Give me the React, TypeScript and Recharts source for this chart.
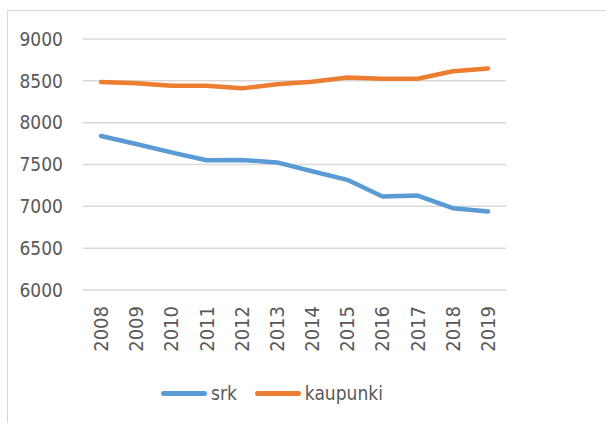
import React from 'react';
import { LineChart, Line, XAxis, YAxis, CartesianGrid, Legend } from 'recharts';

const years = ['2008', '2009', '2010', '2011', '2012', '2013', '2014', '2015', '2016', '2017', '2018', '2019'];
const srk = [7840, 7745, 7645, 7550, 7555, 7525, 7420, 7317, 7118, 7128, 6978, 6938];
const kaupunki = [8485, 8470, 8442, 8440, 8410, 8460, 8488, 8540, 8525, 8525, 8615, 8648];
const yTicks = [6000, 6500, 7000, 7500, 8000, 8500, 9000];

const seriesKeys = ['srk', 'kaupunki'];
const seriesNames: Record<string, string> = { srk: 'srk', kaupunki: 'kaupunki' };
const colors: Record<string, string> = { srk: '#5B9BD5', kaupunki: '#ED7D31' };

const data = years.map((y, i) => ({ year: y, srk: srk[i], kaupunki: kaupunki[i] }));

const FONT = "'DejaVu Sans Condensed', 'Liberation Sans', sans-serif";
const TEXT = '#595959';
const GRID = '#d9d9d9';

const XTick = (props: any) => {
  const { x, y, payload } = props;
  return (
    <text
      x={0}
      y={0}
      transform={`translate(${x},${y}) rotate(-90)`}
      textAnchor="end"
      dominantBaseline="central"
      fill={TEXT}
      fontFamily={FONT}
      fontSize={20}
    >
      {payload.value}
    </text>
  );
};

const LegendContent = (props: any) => {
  const { payload } = props;
  const items = seriesKeys.map((k) => {
    const p = (payload || []).find((q: any) => q.dataKey === k);
    return { key: k, value: p ? p.value : seriesNames[k], color: p ? p.color : colors[k] };
  });
  return (
    <div style={{ position: 'relative', width: 606, height: 30 }}>
      <div style={{ position: 'absolute', left: 161, top: 0, height: 30, display: 'flex', alignItems: 'center' }}>
        {items.map((p) => (
          <div key={p.key} style={{ display: 'flex', alignItems: 'center', marginRight: 18 }}>
            <div style={{ width: 46, height: 5, borderRadius: 3, background: p.color }} />
            <span style={{ marginLeft: 4, fontFamily: FONT, fontSize: 19, color: TEXT, lineHeight: '30px' }}>{p.value}</span>
          </div>
        ))}
      </div>
    </div>
  );
};

export default function App() {
  return (
    <div style={{ position: 'absolute', left: 0, top: 0, width: 606, height: 423, overflow: 'hidden', background: '#fff' }}>
      <div
        style={{
          position: 'absolute',
          left: 7,
          top: 10,
          width: 700,
          height: 500,
          borderLeft: `1px solid ${GRID}`,
          borderTop: `1px solid ${GRID}`,
        }}
      />
      <div style={{ position: 'absolute', left: 0, top: 0 }}>
        <LineChart width={606} height={423} data={data} margin={{ top: 39, right: 100, left: 0, bottom: 15 }}>
          <CartesianGrid horizontal vertical={false} stroke={GRID} strokeWidth={1.5} />
          <XAxis
            dataKey="year"
            height={88}
            axisLine={false}
            tickLine={false}
            tickSize={0}
            tickMargin={16}
            interval={0}
            padding={{ left: 18, right: 18 }}
            tick={<XTick />}
          />
          <YAxis
            width={83}
            domain={[6000, 9000]}
            ticks={yTicks}
            axisLine={false}
            tickLine={false}
            tickSize={0}
            tickMargin={20}
            tick={{ fill: TEXT, fontFamily: FONT, fontSize: 19 }}
          />
          <Legend verticalAlign="bottom" height={30} wrapperStyle={{ left: 0, width: 606 }} content={<LegendContent />} />
          <Line
            dataKey="srk"
            name={seriesNames.srk}
            stroke={colors.srk}
            strokeWidth={4.5}
            strokeLinecap="round"
            strokeLinejoin="round"
            dot={false}
            activeDot={false}
            isAnimationActive={false}
          />
          <Line
            dataKey="kaupunki"
            name={seriesNames.kaupunki}
            stroke={colors.kaupunki}
            strokeWidth={4.5}
            strokeLinecap="round"
            strokeLinejoin="round"
            dot={false}
            activeDot={false}
            isAnimationActive={false}
          />
        </LineChart>
      </div>
    </div>
  );
}
